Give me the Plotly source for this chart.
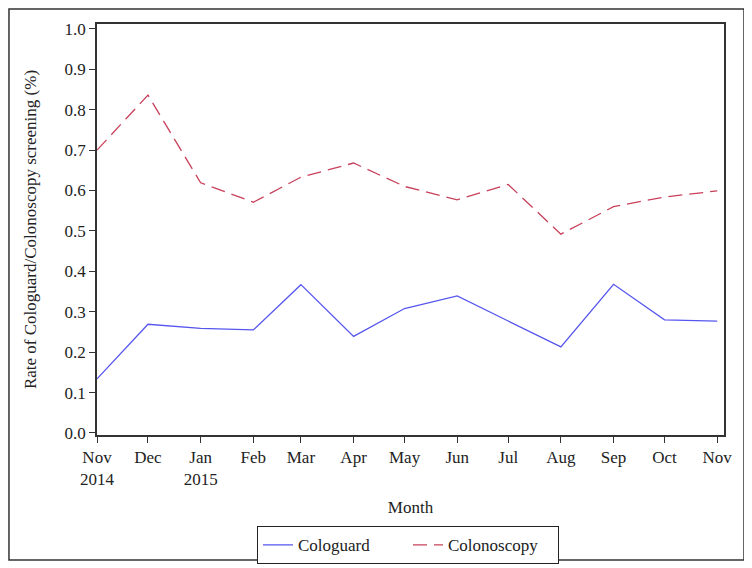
import plotly.graph_objects as go

months = ["2014-11-01", "2014-12-01", "2015-01-01", "2015-02-01", "2015-03-01",
          "2015-04-01", "2015-05-01", "2015-06-01", "2015-07-01", "2015-08-01",
          "2015-09-01", "2015-10-01", "2015-11-01"]
tick_labels = ["Nov<br>2014", "Dec", "Jan<br>2015", "Feb", "Mar", "Apr", "May",
               "Jun", "Jul", "Aug", "Sep", "Oct", "Nov"]
cologuard = [0.134, 0.269, 0.259, 0.255, 0.367, 0.239, 0.308, 0.339, 0.277,
             0.213, 0.368, 0.280, 0.277]
colonoscopy = [0.700, 0.836, 0.619, 0.571, 0.633, 0.668, 0.610, 0.577, 0.615,
               0.492, 0.560, 0.584, 0.599]
y_ticks = [i / 10 for i in range(11)]

font = "Liberation Serif, Times New Roman, serif"

fig = go.Figure()
fig.add_trace(go.Scatter(x=months, y=cologuard, mode="lines", name="Cologuard",
                         line=dict(color="#5656EE", width=1.3)))
fig.add_trace(go.Scatter(x=months, y=colonoscopy, mode="lines", name="Colonoscopy",
                         line=dict(color="#C8405A", width=1.3, dash="14px,7px")))

# page body adds an 8px offset, margins are set to compensate
fig.update_layout(
    width=752, height=568,
    margin=dict(l=89, r=36, t=16, b=141, autoexpand=False),
    paper_bgcolor="white", plot_bgcolor="white",
    font=dict(family=font, size=17, color="#222"),
    showlegend=True,
    legend=dict(orientation="h", x=0.496, xanchor="center", y=-0.222, yanchor="top",
                bordercolor="#222", borderwidth=1, font=dict(size=17),
                entrywidth=105, tracegroupgap=0),
    shapes=[dict(type="rect", xref="paper", yref="paper",
                 x0=-0.1404, x1=1.0319, y0=-0.3041, y1=1.0365,
                 line=dict(color="#333", width=1.5))],
)
fig.update_xaxes(
    type="date", range=["2014-11-01", "2015-11-05"], automargin=False,
    tickvals=months, ticktext=tick_labels,
    ticks="outside", ticklen=6, tickcolor="#333",
    showline=True, mirror=True, linecolor="#333", linewidth=1.5,
    showgrid=False, zeroline=False,
    title=dict(text="Month", font=dict(size=17), standoff=13),
)
fig.update_yaxes(
    range=[-0.005, 1.012], tickvals=y_ticks, tickformat=".1f", automargin=False,
    ticks="outside", ticklen=6, tickcolor="#333",
    showline=True, mirror=True, linecolor="#333", linewidth=1.5,
    showgrid=False, zeroline=False,
    title=dict(text="Rate of Cologuard/Colonoscopy screening (%)", font=dict(size=17), standoff=24),
)

fig.write_html("out.html")
